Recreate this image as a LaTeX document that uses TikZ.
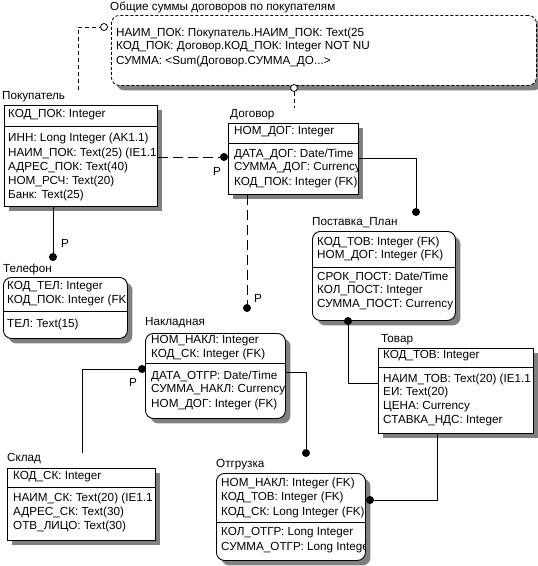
\documentclass[tikz,border=0pt]{standalone}
\usepackage{fontspec}
\setmainfont{Liberation Sans}
\usetikzlibrary{shadows}
\begin{document}
\begin{tikzpicture}[x=1pt,y=-1pt,
  shad/.style={drop shadow={shadow xshift=5pt, shadow yshift=-5pt, fill=black!50, opacity=1}},
  ent/.style={draw, line width=0.9pt, fill=white, anchor=north west, inner sep=0pt, shad},
  dep/.style={ent, rounded corners=8pt},
  view/.style={draw, line width=0.8pt, dash pattern=on 3pt off 2pt, fill=white, anchor=north west, inner sep=0pt, rounded corners=8pt, shad},
  txt/.style={anchor=west, inner sep=0pt, font=\fontsize{11.7}{13}\selectfont},
  rel/.style={line width=0.9pt},
  nrel/.style={rel, dash pattern=on 10pt off 5pt},
  vrel/.style={line width=0.8pt, dash pattern=on 4pt off 3pt},
  dot/.style={circle, fill=black, inner sep=0pt, minimum size=8pt},
  odot/.style={circle, draw, fill=white, inner sep=0pt, minimum size=7pt, line width=0.8pt},
  sep/.style={line width=0.9pt},
]
\useasboundingbox[fill=white] (0,0) rectangle (538,566);

% ---------- view ----------
\node[txt] (vl) at (110,7) {Общие суммы договоров по покупателям};
\node[view, minimum width=425pt, minimum height=70pt] (v) at (111,15) {};
\begin{scope}
\clip (v.north west) rectangle ([xshift=-1pt]v.south east);
\node[txt] (v1) at (116,33) {НАИМ\_ПОК: Покупатель.НАИМ\_ПОК: Text(25};
\node[txt] (v2) at (116,47) {КОД\_ПОК: Договор.КОД\_ПОК: Integer NOT NU};
\node[txt] (v3) at (116,61) {СУММА: <Sum(Договор.СУММА\_ДО...>};
\end{scope}

% ---------- Покупатель ----------
\node[txt] (pokl) at (2,97) {Покупатель};
\node[ent, minimum width=153pt, minimum height=101pt] (pok) at (4,105) {};
\draw[sep] (pok.west |- 0,126) -- (pok.east |- 0,126);
\begin{scope}
\clip ([xshift=1pt,yshift=-1pt]pok.north west) rectangle ([xshift=-1pt,yshift=1pt]pok.south east);
\node[txt] (pok1) at (8,115) {КОД\_ПОК: Integer};
\node[txt] (pok2) at (8,138) {ИНН: Long Integer (AK1.1)};
\node[txt] (pok3) at (8,153) {НАИМ\_ПОК: Text(25) (IE1.1};
\node[txt] (pok4) at (8,167) {АДРЕС\_ПОК: Text(40)};
\node[txt] (pok5) at (8,181) {НОМ\_РСЧ: Text(20)};
\node[txt] (pok6) at (8,195) {Банк: Text(25)};
\end{scope}

% ---------- Договор ----------
\node[txt] (dogl) at (230,115) {Договор};
\node[ent, minimum width=130pt, minimum height=71pt] (dog) at (228,123) {};
\draw[sep] (dog.west |- 0,143) -- (dog.east |- 0,143);
\begin{scope}
\clip ([xshift=1pt,yshift=-1pt]dog.north west) rectangle ([xshift=-1pt,yshift=1pt]dog.south east);
\node[txt] (dog1) at (234,132) {НОМ\_ДОГ: Integer};
\node[txt] (dog2) at (234,154) {ДАТА\_ДОГ: Date/Time};
\node[txt] (dog3) at (234,168) {СУММА\_ДОГ: Currency};
\node[txt] (dog4) at (234,182) {КОД\_ПОК: Integer (FK)};
\end{scope}

% ---------- Телефон ----------
\node[txt] (tell) at (3,269) {Телефон};
\node[dep, minimum width=124pt, minimum height=61pt] (tel) at (3,277) {};
\draw[sep] (tel.west |- 0,311) -- (tel.east |- 0,311);
\begin{scope}
\clip ([xshift=1pt,yshift=-1pt]tel.north west) rectangle ([xshift=-1pt,yshift=1pt]tel.south east);
\node[txt] (tel1) at (7,287) {КОД\_ТЕЛ: Integer};
\node[txt] (tel2) at (7,300) {КОД\_ПОК: Integer (FK};
\node[txt] (tel3) at (7,324) {ТЕЛ: Text(15)};
\end{scope}

% ---------- Поставка_План ----------
\node[txt] (postl) at (312,223) {Поставка\_План};
\node[dep, minimum width=143pt, minimum height=89pt] (post) at (312,231) {};
\draw[sep] (post.west |- 0,267) -- (post.east |- 0,267);
\begin{scope}
\clip ([xshift=1pt,yshift=-1pt]post.north west) rectangle ([xshift=-1pt,yshift=1pt]post.south east);
\node[txt] (post1) at (317,242) {КОД\_ТОВ: Integer (FK)};
\node[txt] (post2) at (317,255) {НОМ\_ДОГ: Integer (FK)};
\node[txt] (post3) at (317,277) {СРОК\_ПОСТ: Date/Time};
\node[txt] (post4) at (317,291) {КОЛ\_ПОСТ: Integer};
\node[txt] (post5) at (317,305) {СУММА\_ПОСТ: Currency};
\end{scope}

% ---------- Накладная ----------
\node[txt] (nakll) at (145,323) {Накладная};
\node[dep, minimum width=140pt, minimum height=85pt] (nakl) at (145,333) {};
\draw[sep] (nakl.west |- 0,363) -- (nakl.east |- 0,363);
\begin{scope}
\clip ([xshift=1pt,yshift=-1pt]nakl.north west) rectangle ([xshift=-1pt,yshift=1pt]nakl.south east);
\node[txt] (nakl1) at (151,341) {НОМ\_НАКЛ: Integer};
\node[txt] (nakl2) at (151,354) {КОД\_СК: Integer (FK)};
\node[txt] (nakl3) at (151,376) {ДАТА\_ОТГР: Date/Time};
\node[txt] (nakl4) at (151,390) {СУММА\_НАКЛ: Currency};
\node[txt] (nakl5) at (151,404) {НОМ\_ДОГ: Integer (FK)};
\end{scope}

% ---------- Товар ----------
\node[txt] (tovl) at (381,340) {Товар};
\node[ent, minimum width=155pt, minimum height=85pt] (tov) at (378,348) {};
\draw[sep] (tov.west |- 0,367) -- (tov.east |- 0,367);
\begin{scope}
\clip ([xshift=1pt,yshift=-1pt]tov.north west) rectangle ([xshift=-1pt,yshift=1pt]tov.south east);
\node[txt] (tov1) at (383,356) {КОД\_ТОВ: Integer};
\node[txt] (tov2) at (383,379) {НАИМ\_ТОВ: Text(20) (IE1.1};
\node[txt] (tov3) at (383,392) {ЕИ: Text(20)};
\node[txt] (tov4) at (383,407) {ЦЕНА: Currency};
\node[txt] (tov5) at (383,421) {СТАВКА\_НДС: Integer};
\end{scope}

% ---------- Склад ----------
\node[txt] (skll) at (7,459) {Склад};
\node[ent, minimum width=148pt, minimum height=72pt] (skl) at (7,468) {};
\draw[sep] (skl.west |- 0,487) -- (skl.east |- 0,487);
\begin{scope}
\clip ([xshift=1pt,yshift=-1pt]skl.north west) rectangle ([xshift=-1pt,yshift=1pt]skl.south east);
\node[txt] (skl1) at (13,477) {КОД\_СК: Integer};
\node[txt] (skl2) at (13,498) {НАИМ\_СК: Text(20) (IE1.1};
\node[txt] (skl3) at (13,512) {АДРЕС\_СК: Text(30)};
\node[txt] (skl4) at (13,526) {ОТВ\_ЛИЦО: Text(30)};
\end{scope}

% ---------- Отгрузка ----------
\node[txt] (otgl) at (216,465) {Отгрузка};
\node[dep, minimum width=149pt, minimum height=87pt] (otg) at (216,473) {};
\draw[sep] (otg.west |- 0,522) -- (otg.east |- 0,522);
\begin{scope}
\clip ([xshift=1pt,yshift=-1pt]otg.north west) rectangle ([xshift=-1pt,yshift=1pt]otg.south east);
\node[txt] (otg1) at (221,483) {НОМ\_НАКЛ: Integer (FK)};
\node[txt] (otg2) at (221,497) {КОД\_ТОВ: Integer (FK)};
\node[txt] (otg3) at (221,512) {КОД\_СК: Long Integer (FK)};
\node[txt] (otg4) at (221,533) {КОЛ\_ОТГР: Long Integer};
\node[txt] (otg5) at (221,548) {СУММА\_ОТГР: Long Integer};
\end{scope}

% ---------- view connectors ----------
\node[odot] (o1) at (104,27) {};
\coordinate (vc1) at (78,90);
\draw[vrel] (vc1) |- (o1);
\node[odot] (o2) at (294,88) {};
\coordinate (vc2) at (294,108);
\draw[vrel] (o2) -- (vc2);

% ---------- relationships ----------
\node[dot] (d1) at (224,157) {};
\draw[nrel] (pok.east |- d1) -- (d1);
\node[txt] (p1) at (213,171) {P};

\node[dot] (d2) at (416,212) {};
\draw[rel] (dog.east |- 0,158) -| (d2);

\node[dot] (d3) at (53,257) {};
\draw[rel] (d3 |- pok.south) -- (d3);
\node[txt] (p3) at (61,243) {P};

\node[dot] (d4) at (247,308) {};
\draw[nrel] (d4 |- dog.south) -- (d4);
\node[txt] (p4) at (254,298) {P};

\node[dot] (d5) at (142,369) {};
\coordinate (s5) at (82,453);
\draw[rel] (s5) |- (d5);
\node[txt] (p5) at (129,382) {P};

\node[dot] (d6) at (306,453) {};
\draw[rel] (nakl.east |- 0,372) -| (d6);

\node[dot] (d7) at (370,500) {};
\draw[rel] ([xshift=-18.5pt]tov.south) |- (d7);

\node[dot] (d8) at (348,321) {};
\draw[rel] (tov.west |- 0,383) -| (d8);
\end{tikzpicture}
\end{document}
